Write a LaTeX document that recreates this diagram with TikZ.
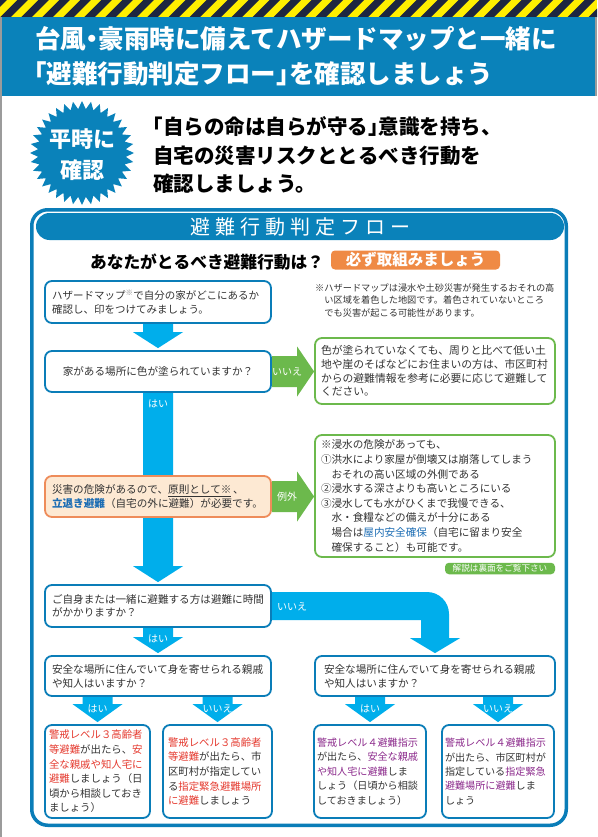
\documentclass[tikz,border=0pt]{standalone}
\usepackage{fontspec}
\setmainfont{Noto Sans CJK JP}
\usetikzlibrary{calc}
\pgfdeclarelayer{bg}
\pgfdeclarelayer{paper}
\pgfsetlayers{paper,bg,main}
\definecolor{bandblue}{HTML}{0A82BA}
\definecolor{frameblue}{HTML}{0A7DB8}
\definecolor{arrowcyan}{HTML}{00AEEB}
\definecolor{ggreen}{HTML}{6CB94C}
\definecolor{orng}{HTML}{EF8A45}
\definecolor{peach}{HTML}{FDE9D3}
\definecolor{peachline}{HTML}{EE8C5A}
\definecolor{navy}{HTML}{1E2640}
\definecolor{stripey}{HTML}{FFEF00}
\definecolor{redt}{HTML}{E53A2F}
\definecolor{purt}{HTML}{8C2A8C}
\definecolor{bluet}{HTML}{1C6DB4}
\definecolor{edgegray}{HTML}{9B9B9B}
\definecolor{txtgray}{HTML}{333333}
\newcommand{\fsz}[2]{\fontsize{#1}{#2}\selectfont}
\newcommand{\rd}[1]{\textcolor{redt}{#1}}
\newcommand{\pu}[1]{\textcolor{purt}{#1}}
\newcommand{\dnarrow}[3]{\fill[arrowcyan] ($(#1)+(-15,0)$) -- ($(#1)+(15,0)$) -- ($(#2)+(15,-#3)$) -- ($(#2)+(25,-#3)$) -- (#2) -- ($(#2)+(-25,-#3)$) -- ($(#2)+(-15,-#3)$) -- cycle;}
\newcommand{\rtarrow}[2]{\fill[ggreen] ($(#1)+(0,-15.5)$) -- ($(#2)+(-17,-15.5)$) -- ($(#2)+(-17,-25)$) -- (#2) -- ($(#2)+(-17,25)$) -- ($(#2)+(-17,15.5)$) -- ($(#1)+(0,15.5)$) -- cycle;}
\begin{document}
\begin{tikzpicture}[x=1pt,y=-1pt,
  fbox/.style={draw=frameblue, line width=1.8pt, rounded corners=7pt, fill=white, align=left, inner ysep=0pt, text=txtgray},
  gbox/.style={draw=ggreen, line width=1.8pt, rounded corners=7pt, fill=white, align=left, inner ysep=0pt, text=txtgray},
  lbl/.style={text=white, inner sep=0pt, font={\fsz{10}{10}}},
  ttl/.style={anchor=west, inner sep=0pt, text=white, font={\fsz{25.5}{25.5}\bfseries}},
  msg/.style={anchor=west, inner sep=0pt, text=black, font={\fsz{20.5}{20.5}\bfseries}},
]
\useasboundingbox (0,0) rectangle (597,837);
\begin{pgfonlayer}{paper}
\fill[white] (0,0) rectangle (597,837);
\end{pgfonlayer}
% hazard stripes
\begin{scope}
\clip (0,0) rectangle (597,17.5);
\fill[stripey] (0,0) rectangle (597,17.5);
\foreach \i in {-2,...,30} {\fill[navy] ({\i*21},17.5) -- ({\i*21+10.5},17.5) -- ({\i*21+28},0) -- ({\i*21+17.5},0) -- cycle;}
\end{scope}
\fill[bandblue] (0,17.5) rectangle (597,96);
\draw[edgegray, line width=1.5pt] (1,17.5) -- (1,837);
\draw[edgegray, line width=1.5pt] (596,17.5) -- (596,96);
% title
\node[ttl] (t1) at (35,39) {台風\hspace{-.25em}・\hspace{-.25em}豪雨時に備えてハザードマップと一緒に};
\node[ttl] (t2) at (34,74) {\hspace{-.5em}「避難行動判定フロー」\hspace{-.5em}を確認しましょう};
% badge
\fill[bandblue, shift={(82,153)}] (0:52pt) \foreach \i in {1,...,36} { -- ({(\i-0.5)*10}:44pt) -- ({\i*10}:52pt) } -- cycle;
\node[inner sep=0pt, text=white, font={\fsz{22}{22}\bfseries}] (bd1) at (82,139) {平時に};
\node[inner sep=0pt, text=white, font={\fsz{22}{22}\bfseries}] (bd2) at (82,170) {確認};
% message
\node[msg] (m1) at (153,127) {\hspace{-.5em}「自らの命は自らが守る」\hspace{-.5em}意識を持ち、};
\node[msg] (m2) at (153,156) {自宅の災害リスクととるべき行動を};
\node[msg] (m3) at (153,184) {確認しましょう。};
% frame
\draw[frameblue, line width=3.5pt, rounded corners=16pt] (31.75,209.75) rectangle (566.25,825.25);
\node[fill=bandblue, rounded corners=13.5pt, minimum width=528pt, minimum height=27pt, inner sep=0pt, text=white, font={\fsz{20}{20}}] (hdr) at (300,226.5) {避\hspace{5pt}難\hspace{5pt}行\hspace{5pt}動\hspace{5pt}判\hspace{5pt}定\hspace{5pt}フ\hspace{5pt}ロ\hspace{5pt}ー};
\node[inner sep=0pt, text=black, font={\fsz{16.7}{16.7}\bfseries}] (q) at (207,262) {あなたがとるべき避難行動は？};
\node[fill=orng, rounded corners=4pt, minimum width=169pt, minimum height=19pt, inner sep=0pt, text=white, font={\fsz{15.5}{15.5}\bfseries}] (must) at (415.5,260) {必ず取組みましょう};
% boxes
\node[fbox, minimum width=226pt, minimum height=42pt, text width=212pt, inner xsep=7pt, font={\fsz{10.5}{14}}] (b1) at (158,302) {ハザードマップ\textsuperscript{\textcolor{gray}{※}}で自分の家がどこにあるか\\確認し、印をつけてみましょう。};
\node[anchor=west, inner sep=0pt, align=left, text=txtgray, font={\fsz{9.2}{12.7}}] (note) at (315,300.5) {※ハザードマップは浸水や土砂災害が発生するおそれの高\\\hspace*{1em}い区域を着色した地図です。着色されていないところ\\\hspace*{1em}でも災害が起こる可能性があります。};
\node[fbox, minimum width=226pt, minimum height=41pt, align=center, font={\fsz{10.6}{13.5}}] (b2) at (158,371.5) {家がある場所に色が塗られていますか？};
\node[gbox, minimum width=240pt, minimum height=66pt, text width=228pt, inner xsep=6pt, font={\fsz{10.8}{13.6}}] (g1) at (435,371) {色が塗られていなくても、周りと比べて低い土\\地や崖のそばなどにお住まいの方は、市区町村\\からの避難情報を参考に必要に応じて避難して\\ください。};
\node[fbox, draw=peachline, fill=peach, minimum width=226pt, minimum height=41pt, text width=212pt, inner xsep=7pt, font={\fsz{10.6}{13.5}}] (ob) at (158,496.5) {災害の危険があるので、\underline{原則として※}\,、\\\textcolor{bluet}{\bfseries 立退き避難}（自宅の外に避難）が必要です。};
\node[gbox, minimum width=240pt, minimum height=122pt, text width=228pt, inner xsep=6pt, font={\fsz{10.6}{14.6}}] (g2) at (435,496) {※浸水の危険があっても、\\①洪水により家屋が倒壊又は崩落してしまう\\\hspace*{1em}おそれの高い区域の外側である\\②浸水する深さよりも高いところにいる\\③浸水しても水がひくまで我慢できる、\\\hspace*{1em}水・食糧などの備えが十分にある\\\hspace*{1em}場合は\textcolor{bluet}{屋内安全確保}（自宅に留まり安全\\\hspace*{1em}確保すること）も可能です。};
\node[fill=ggreen, rounded corners=4pt, minimum width=110pt, minimum height=11.5pt, inner sep=0pt, text=white, font={\fsz{8.6}{8.6}}] (see) at (500,568.5) {解説は裏面をご覧下さい};
\node[fbox, minimum width=226pt, minimum height=42pt, text width=212pt, inner xsep=7pt, font={\fsz{10.6}{13.5}}] (b3) at (158,606) {ご自身または一緒に避難する方は避難に時間\\がかかりますか？};
\node[fbox, minimum width=226pt, minimum height=40pt, text width=212pt, inner xsep=7pt, font={\fsz{10.6}{14}}] (b4l) at (158,676) {安全な場所に住んでいて身を寄せられる親戚\\や知人はいますか？};
\node[fbox, minimum width=240pt, minimum height=40pt, text width=222pt, inner xsep=9pt, font={\fsz{10.6}{14}}] (b4r) at (435,676) {安全な場所に住んでいて身を寄せられる親戚\\や知人はいますか？};
\node[fbox, minimum width=105pt, minimum height=93pt, text width=97pt, inner xsep=4pt, font={\fsz{10.4}{14.6}}] (b5a) at (97.5,771.5) {\rd{警戒レベル３高齢者}\\\rd{等避難}が出たら、\rd{安}\\\rd{全な親戚や知人宅に}\\\rd{避難}しましょう（日\\頃から相談しておき\\ましょう）};
\node[fbox, minimum width=109pt, minimum height=93pt, text width=99pt, inner xsep=5pt, font={\fsz{10.4}{14.6}}] (b5b) at (217.5,771.5) {\rd{警戒レベル３高齢者}\\\rd{等避難}が出たら、市\\区町村が指定してい\\る\rd{指定緊急避難場所}\\\rd{に避難}しましょう};
\node[fbox, minimum width=112pt, minimum height=93pt, text width=106pt, inner xsep=3pt, font={\fsz{10.1}{14.4}}] (b5c) at (370,771.5) {\pu{警戒レベル４避難指示}\\が出たら、\pu{安全な親戚}\\\pu{や知人宅に避難}しま\\しょう（日頃から相談\\しておきましょう）};
\node[fbox, minimum width=112pt, minimum height=93pt, text width=106pt, inner xsep=3pt, font={\fsz{10.1}{14.4}}] (b5d) at (498,771.5) {\pu{警戒レベル４避難指示}\\が出たら、市区町村が\\指定している\pu{指定緊急}\\\pu{避難場所に避難}しま\\しょう};
% arrows
\coordinate (tp2) at ($(b2.north)+(0,-2)$);
\coordinate (tp3) at ($(b3.north)+(0,-2)$);
\coordinate (tp4) at ($(b4l.north)+(0,-2)$);
\coordinate (tpr) at ($(b4r.north)+(0,-2)$);
\coordinate (sa) at (b5a.north |- b4l.south);
\coordinate (sb) at (b5b.north |- b4l.south);
\coordinate (sc) at (b5c.north |- b4r.south);
\coordinate (sd) at (b5d.north |- b4r.south);
\coordinate (ta) at ($(b5a.north)+(0,-2)$);
\coordinate (tb) at ($(b5b.north)+(0,-2)$);
\coordinate (tc) at ($(b5c.north)+(0,-2)$);
\coordinate (td) at ($(b5d.north)+(0,-2)$);
\coordinate (gt1) at (g1.west |- b2.east);
\coordinate (gt2) at (g2.west |- ob.east);
\coordinate (bs) at (b3.east);
\begin{pgfonlayer}{bg}
\dnarrow{b1.south}{tp2}{16}
\dnarrow{b2.south}{tp3}{16}
\dnarrow{b3.south}{tp4}{16}
\dnarrow{sa}{ta}{18}
\dnarrow{sb}{tb}{18}
\dnarrow{sc}{tc}{18}
\dnarrow{sd}{td}{18}
\rtarrow{b2.east}{gt1}
\rtarrow{ob.east}{gt2}
\fill[arrowcyan] ($(bs)+(0,-14)$) -- ($(tpr |- bs)+(-8,-14)$) arc[start angle=90, end angle=0, radius=22pt] -- ($(tpr)+(14,-15)$) -- ($(tpr)+(25,-15)$) -- (tpr) -- ($(tpr)+(-25,-15)$) -- ($(tpr)+(-14,-15)$) -- ($(tpr |- bs)+(-14,14)$) -- ($(bs)+(0,14)$) -- cycle;
\end{pgfonlayer}
% labels
\node[lbl] (l1) at (158,404) {はい};
\node[lbl] (l2) at (287,372) {いいえ};
\node[lbl] (l3) at (287,497) {例外};
\node[lbl] (l4) at (292,607) {いいえ};
\node[lbl] (l5) at (158,639) {はい};
\node[lbl] (l6) at (97.5,709) {はい};
\node[lbl] (l7) at (217.5,709) {いいえ};
\node[lbl] (l8) at (370,709) {はい};
\node[lbl] (l9) at (498,709) {いいえ};
\end{tikzpicture}
\end{document}
